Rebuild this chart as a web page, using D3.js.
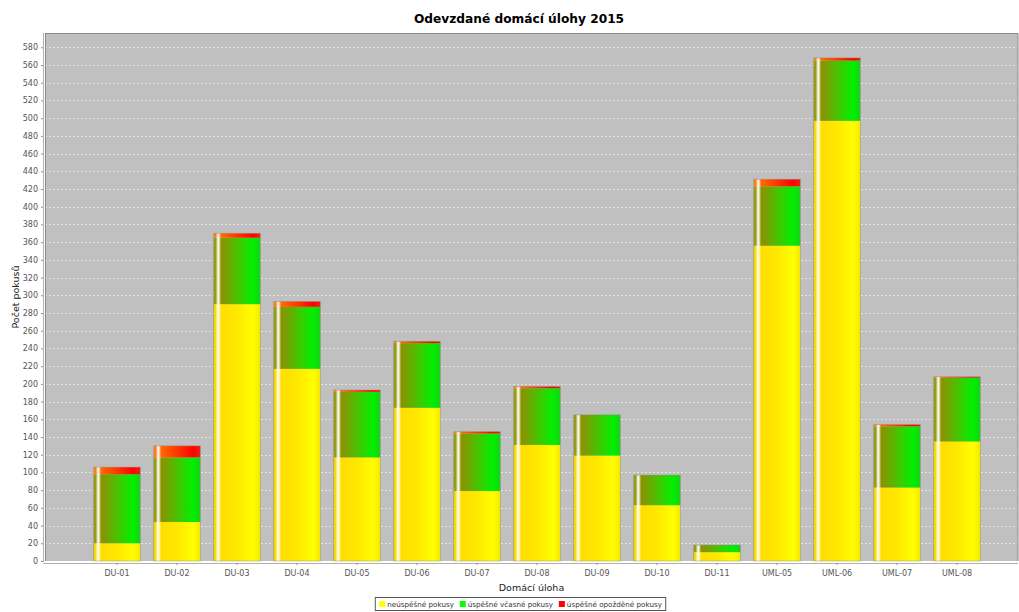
<!DOCTYPE html>
<html>
<head>
<meta charset="utf-8">
<script src="https://cdn.jsdelivr.net/npm/d3@7"></script>
<style>
  html, body { margin: 0; padding: 0; background: #ffffff; }
  svg { display: block; }
  text { font-family: "DejaVu Sans", sans-serif; }
</style>
</head>
<body>
<svg id="chart" width="1019" height="612"></svg>
<script>
// Homework submissions per assignment, stacked by attempt outcome
const categories = ["DU-01","DU-02","DU-03","DU-04","DU-05","DU-06","DU-07","DU-08","DU-09","DU-10","DU-11","UML-05","UML-06","UML-07","UML-08"];
const failedAttempts = [20, 44, 290, 217, 117, 173, 79, 131, 119, 63, 10, 356, 497, 83, 135];
const onTimeAttempts = [78, 73, 75, 70, 74, 73, 65, 64, 46, 34, 8, 67, 68, 69, 72];
const lateAttempts   = [8, 13, 5, 6, 2, 2, 2, 2, 0, 0, 0, 8, 3, 2, 1];
const seriesNames = ["neúspěšné pokusy", "úspěšné včasné pokusy", "úspěšné opožděné pokusy"];
const yTicks = d3.range(0, 600, 20);

const W = 1019, H = 612;
const plot = { left: 45, right: 1018, top: 33, bottom: 561 };

const svg = d3.select("#chart");
const defs = svg.append("defs");

// horizontal gradients for each series
const gradSpecs = [
  { id: "g-yellow", stops: [[0, "#e8cf00"], [0.05, "#ffe000"], [0.2, "#ffde00"], [0.55, "#ffea00"], [0.85, "#ffff00"], [1, "#f4e800"]] },
  { id: "g-green",  stops: [[0, "#a0a020"], [0.05, "#8c9400"], [0.2, "#889400"], [0.55, "#40c800"], [0.85, "#00f000"], [1, "#18d018"]] },
  { id: "g-red",    stops: [[0, "#ff8a30"], [0.05, "#ff7000"], [0.2, "#ff6400"], [0.55, "#ff3000"], [0.85, "#ff0000"], [1, "#f02010"]] }
];
gradSpecs.forEach(g => {
  const lg = defs.append("linearGradient").attr("id", g.id)
    .attr("x1", "0").attr("y1", "0").attr("x2", "1").attr("y2", "0");
  g.stops.forEach(s => lg.append("stop").attr("offset", s[0]).attr("stop-color", s[1]));
});
// glossy highlight stripe near the left edge
const hl = defs.append("linearGradient").attr("id", "g-shine")
  .attr("x1", "0").attr("y1", "0").attr("x2", "1").attr("y2", "0");
[[0, 0.0], [0.045, 0.05], [0.085, 0.85], [0.11, 0.9], [0.16, 0.0], [1, 0.0]].forEach(s =>
  hl.append("stop").attr("offset", s[0]).attr("stop-color", "#ffffff").attr("stop-opacity", s[1]));

const x = d3.scaleBand().domain(categories).range([87, 987]).paddingInner(0.222).paddingOuter(0.111);
const y = d3.scaleLinear().domain([0, 580]).range([plot.bottom, plot.bottom - 580 * 0.8857]);

// plot background
svg.append("rect").attr("x", plot.left).attr("y", plot.top)
  .attr("width", plot.right - plot.left).attr("height", plot.bottom - plot.top)
  .attr("fill", "#c0c0c0");

// gridlines
svg.append("g").selectAll("line").data(yTicks.filter(d => d > 0)).join("line")
  .attr("x1", plot.left).attr("x2", plot.right)
  .attr("y1", d => Math.round(y(d)) + 0.5).attr("y2", d => Math.round(y(d)) + 0.5)
  .attr("stroke", "#e4e4e4").attr("stroke-width", 1).attr("stroke-dasharray", "2,2");

// stacked bars
const rows = categories.map((c, i) => ({ cat: c, vals: [failedAttempts[i], onTimeAttempts[i], lateAttempts[i]] }));
const stack = d3.stack().keys([0, 1, 2]).value((d, k) => d.vals[k]);
const stacked = stack(rows);
const fills = ["url(#g-yellow)", "url(#g-green)", "url(#g-red)"];

const barG = svg.append("g");
stacked.forEach((layer, k) => {
  barG.append("g").selectAll("rect").data(layer.filter(d => d[1] > d[0])).join("rect")
    .attr("x", d => x(d.data.cat))
    .attr("width", x.bandwidth())
    .attr("y", d => y(d[1]))
    .attr("height", d => y(d[0]) - y(d[1]))
    .attr("fill", fills[k]);
});
// highlight stripe and thin outline over each full column
const totals = rows.map(r => ({ cat: r.cat, total: d3.sum(r.vals) }));
barG.append("g").selectAll("rect").data(totals).join("rect")
  .attr("x", d => x(d.cat)).attr("width", x.bandwidth())
  .attr("y", d => y(d.total)).attr("height", d => y(0) - y(d.total))
  .attr("fill", "url(#g-shine)")
  .attr("stroke", "rgba(140,140,120,0.55)").attr("stroke-width", 0.8);

// plot border (top / right)
svg.append("path")
  .attr("d", `M${plot.left},${plot.top + 0.5}H${plot.right}V${plot.bottom}`)
  .attr("fill", "none").attr("stroke", "#8a8a8a").attr("stroke-width", 1);
svg.append("line").attr("x1", plot.left + 0.5).attr("x2", plot.left + 0.5)
  .attr("y1", plot.top).attr("y2", plot.bottom).attr("stroke", "#8a8a8a");

// y axis
const yAxis = d3.axisLeft(y).tickValues(yTicks).tickSize(2).tickPadding(3).tickFormat(d3.format("d"));
const yg = svg.append("g").attr("transform", `translate(${plot.left - 2},0)`).call(yAxis);
yg.select(".domain").attr("stroke", "#b0b0b0").attr("d", `M0.5,${plot.top}V${plot.bottom + 1}`);
yg.selectAll(".tick line").attr("stroke", "#909090");
yg.selectAll(".tick text").attr("fill", "#555").style("font-size", "8px").style("font-family", "DejaVu Sans");

// x axis
const xAxis = d3.axisBottom(x).tickSize(2).tickPadding(5);
const xg = svg.append("g").attr("transform", `translate(0,${plot.bottom + 2})`).call(xAxis);
xg.select(".domain").attr("stroke", "#b0b0b0").attr("d", `M${plot.left - 2},0.5H${plot.right}`);
xg.selectAll(".tick line").attr("stroke", "#909090");
xg.selectAll(".tick text").attr("fill", "#555").style("font-size", "8px").style("font-family", "DejaVu Sans");

// title
svg.append("text").attr("x", 519).attr("y", 23).attr("text-anchor", "middle")
  .style("font-size", "12.2px").style("font-weight", "bold").attr("fill", "#000")
  .text("Odevzdané domácí úlohy 2015");

// axis titles
svg.append("text").attr("x", (plot.left + plot.right) / 2).attr("y", 591).attr("text-anchor", "middle")
  .style("font-size", "9.5px").attr("fill", "#222").text("Domácí úloha");
svg.append("text").attr("transform", `translate(19,${(plot.top + plot.bottom) / 2}) rotate(-90)`)
  .attr("text-anchor", "middle").style("font-size", "9.5px").attr("fill", "#222").text("Počet pokusů");

// legend, centred below the plot
const legendColors = ["#ffff00", "#00ff00", "#ff0000"];
const lg = svg.append("g");
const items = lg.selectAll("g").data(seriesNames).join("g");
items.append("rect").attr("width", 6).attr("height", 6).attr("y", -6)
  .attr("fill", (d, i) => legendColors[i]);
items.append("text").attr("x", 8).attr("y", 0).style("font-size", "7.2px").attr("fill", "#333").text(d => d);
let off = 0;
const widths = items.nodes().map(n => n.getBBox().width);
const gap = 5;
const totalW = d3.sum(widths) + gap * (widths.length - 1);
const legendCenter = 521;
const lx = legendCenter - totalW / 2;
items.attr("transform", (d, i) => {
  const t = `translate(${lx + off},${607})`;
  off += widths[i] + gap;
  return t;
});
lg.insert("rect", ":first-child").attr("x", lx - 4).attr("y", 597.5)
  .attr("width", totalW + 7).attr("height", 13)
  .attr("fill", "#fff").attr("stroke", "#555").attr("stroke-width", 1);
</script>
</body>
</html>
